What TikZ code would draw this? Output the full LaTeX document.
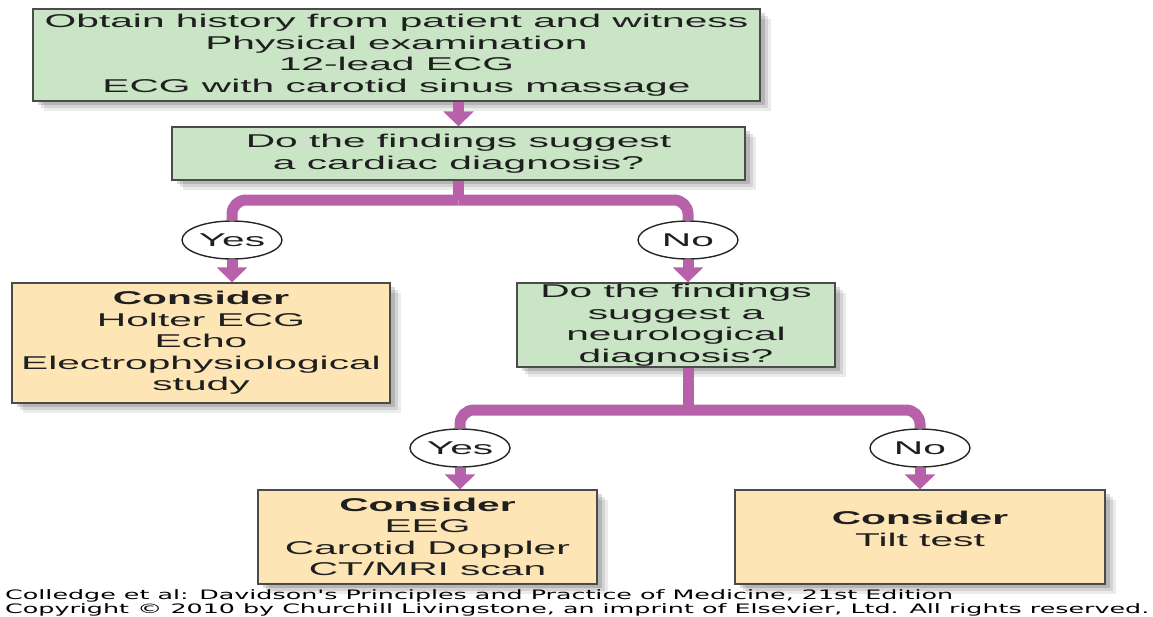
\documentclass[tikz,border=0pt]{standalone}
\usepackage{fontspec}
\setmainfont{Liberation Sans}
\newfontfamily\wf[FakeStretch=2.2]{Liberation Sans}
\newfontfamily\ff[FakeStretch=1.95]{DejaVu Sans}
\usetikzlibrary{arrows.meta,shadows,shapes.geometric}
\definecolor{boxgreen}{RGB}{201,229,197}
\definecolor{boxyellow}{RGB}{253,229,181}
\definecolor{connc}{RGB}{184,97,171}
\definecolor{edgec}{RGB}{75,75,75}
\begin{document}
\begin{tikzpicture}[x=1pt,y=-1pt,
 softshadow/.style={drop shadow={shadow xshift=11pt,shadow yshift=-10pt,opacity=.08,fill=black},
                    drop shadow={shadow xshift=8pt,shadow yshift=-7pt,opacity=.10,fill=black},
                    drop shadow={shadow xshift=5pt,shadow yshift=-4pt,opacity=.14,fill=black}},
 box/.style={draw=edgec, line width=1.4pt, align=center, inner sep=0pt, text=black!88,
             font=\wf\fontsize{18.5}{21.5}\selectfont, softshadow},
 gbox/.style={box, fill=boxgreen},
 ybox/.style={box, fill=boxyellow},
 lbl/.style={ellipse, draw=black!85, line width=1.4pt, fill=white, minimum width=100pt,
             minimum height=38pt, inner sep=0pt, text=black!88, font=\wf\fontsize{18.5}{21.5}\selectfont},
 link/.style={draw=connc, line width=11pt},
 arr/.style={link, -{Triangle[width=30pt,length=15pt]}},
 foot/.style={align=left, anchor=west, inner sep=0pt, font=\ff\fontsize{13}{13.5}\selectfont, text=black},
]
\useasboundingbox (0,0) rectangle (1153,616);

\node[gbox, minimum width=727pt, minimum height=92pt] (b1) at (396.5,55)
  {Obtain history from patient and witness\\Physical examination\\12-lead ECG\\ECG with carotid sinus massage};
\node[gbox, minimum width=573pt, minimum height=53pt] (b2) at (458.5,153.5)
  {Do the findings suggest\\a cardiac diagnosis?};
\node[ybox, minimum width=378pt, minimum height=120pt] (c1) at (201,343)
  {\textbf{Consider}\\Holter ECG\\Echo\\Electrophysiological\\study};
\node[gbox, minimum width=318pt, minimum height=84pt] (nb) at (676,325)
  {Do the findings\\suggest a\\neurological\\diagnosis?};
\node[ybox, minimum width=339pt, minimum height=94pt] (c2) at (427.5,537)
  {\textbf{Consider}\\EEG\\Carotid Doppler\\CT/MRI scan};
\node[ybox, minimum width=370pt, minimum height=94pt] (c3) at (920,537)
  {\textbf{Consider}\\Tilt test\\[-5.5pt]};

\node[lbl] (yes1) at (232,240) {Yes};
\node[lbl] (no1) at (688,240) {No};
\node[lbl] (yes2) at (460,448) {Yes};
\node[lbl] (no2) at (920,448) {No};

\coordinate (j1) at (458.5,200);
\coordinate (j2) at (688,410);

\draw[arr] (b1.south -| b2.north) -- (b2.north);
\draw[link] (b2.south) -- (j1);
\draw[link, rounded corners=14pt] (j1) -| (yes1.north);
\draw[link, rounded corners=14pt] (j1) -| (no1.north);
\draw[arr] (yes1.south) -- (yes1.south |- c1.north);
\draw[arr] (no1.south) -- (no1.south |- nb.north);
\draw[link] (nb.south -| j2) -- (j2);
\draw[link, rounded corners=14pt] (j2) -| (yes2.north);
\draw[link, rounded corners=14pt] (j2) -| (no2.north);
\draw[arr] (yes2.south) -- (yes2.south |- c2.north);
\draw[arr] (no2.south) -- (no2.south |- c3.north);

\node[foot] (ft) at (5,603)
  {Colledge et al: Davidson's Principles and Practice of Medicine, 21st Edition\\
   Copyright \textcopyright\ 2010 by Churchill Livingstone, an imprint of Elsevier, Ltd. All rights reserved.};
\end{tikzpicture}
\end{document}
